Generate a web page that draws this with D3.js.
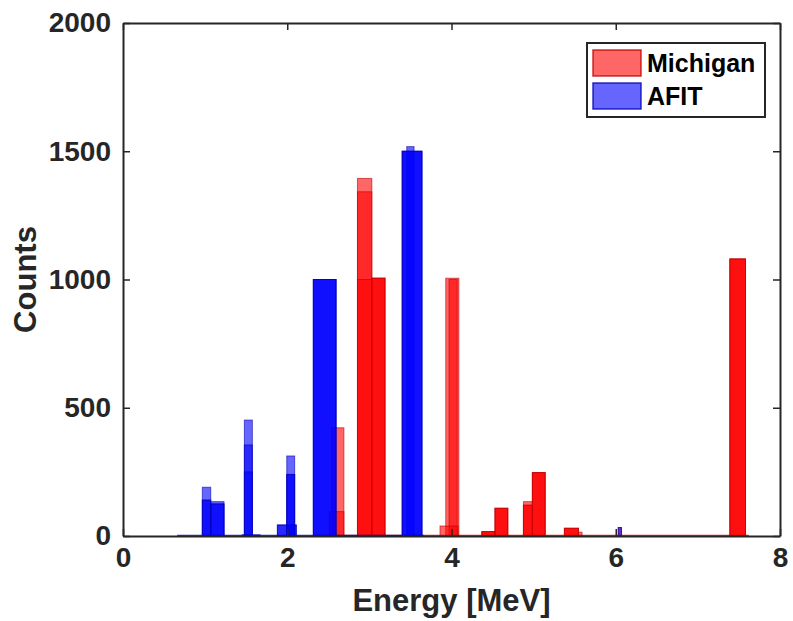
<!DOCTYPE html>
<html>
<head>
<meta charset="utf-8">
<script src="https://cdn.jsdelivr.net/npm/d3@7"></script>
<style>
  html, body { margin: 0; padding: 0; background: #fff; }
  svg { display: block; }
  text { font-family: "Liberation Sans", Arial, sans-serif; font-weight: bold; fill: #262626; }
</style>
</head>
<body>
<svg id="chart" width="793" height="621"></svg>
<script>
// ---------------- data ----------------
const xTicks = [0, 2, 4, 6, 8];
const yTicks = [0, 500, 1000, 1500, 2000];
const seriesNames = ["Michigan", "AFIT"];
const xLabel = "Energy [MeV]";
const yLabel = "Counts";

// bins per overlaid run: [binLow (MeV), binHigh (MeV), count]
const michiganRun1 = [[2.54,2.69,422],[2.855,3.03,1394],[3.03,3.19,1005],[3.93,4.09,1005],[4.37,4.53,17],[4.53,4.685,108],[4.876,4.985,134],[4.985,5.14,247],[5.375,5.546,30],[5.546,5.59,15],[7.39,7.58,1080]];
const michiganRun2 = [[2.51,2.69,95],[2.855,3.03,1342],[3.03,3.19,1005],[3.97,4.07,1000],[3.86,4.08,39],[4.37,4.53,17],[4.53,4.685,108],[4.876,4.985,120],[4.985,5.14,247],[5.375,5.546,30],[6.03,6.07,33],[7.39,7.58,1080]];
const michiganRun3 = [[2.855,3.03,1000],[3.03,3.19,1005],[4.37,4.53,17],[4.53,4.685,108],[4.876,4.985,120],[4.985,5.14,247],[5.375,5.546,30],[7.39,7.58,1080]];
const afitRun1 = [[0.966,1.068,190],[1.068,1.23,134],[1.478,1.575,452],[1.994,2.09,312],[2.318,2.594,1000],[3.40,3.64,1500],[3.455,3.544,1518]];
const afitRun2 = [[0.966,1.068,140],[1.068,1.23,125],[1.478,1.575,355],[1.88,2.11,43],[1.994,2.09,240],[2.318,2.594,1000],[3.40,3.64,1500]];
const afitRun3 = [[0.966,1.068,140],[1.068,1.23,125],[1.478,1.575,250],[1.45,1.67,5],[1.88,2.11,43],[1.994,2.09,240],[2.318,2.594,1000],[3.40,3.64,1500],[6.03,6.07,33]];
// extent of the (mostly empty) histogram bins of each data set
const michiganBinRange = [2.5, 7.62];
const afitBinRange = [0.66, 3.66];

// ---------------- drawing ----------------
const svg = d3.select("#chart");
const margin = { left: 123, right: 13, top: 23, bottom: 85 };
const W = 793, H = 621;
const x = d3.scaleLinear().domain([0, 8]).range([margin.left, W - margin.right]);
const y = d3.scaleLinear().domain([0, 2000]).range([H - margin.bottom, margin.top]);

const series = [
  { name: seriesNames[0], color: "#ff0000", edge: "#c00000", runs: [michiganRun1, michiganRun2, michiganRun3], range: michiganBinRange },
  { name: seriesNames[1], color: "#0000ff", edge: "#0000b0", runs: [afitRun1, afitRun2, afitRun3], range: afitBinRange }
];

const plot = svg.append("g");
series.forEach(s => {
  s.runs.forEach(run => {
    plot.append("g").selectAll("rect").data(run).join("rect")
      .attr("x", d => x(d[0]))
      .attr("width", d => x(d[1]) - x(d[0]))
      .attr("y", d => y(d[2]))
      .attr("height", d => y(0) - y(d[2]))
      .attr("fill", s.color).attr("fill-opacity", 0.6)
      .attr("stroke", s.edge).attr("stroke-opacity", 0.6).attr("stroke-width", 1);
  });
  plot.append("line")
    .attr("x1", x(s.range[0])).attr("x2", x(s.range[1]))
    .attr("y1", y(0) - 0.5).attr("y2", y(0) - 0.5)
    .attr("stroke", s.edge).attr("stroke-opacity", 0.8).attr("stroke-width", 1.5);
});

// axes (box with inward ticks on all sides)
const axisColor = "#262626";
const tickLen = 7;
const fmt = d3.format("d");
const axB = svg.append("g").attr("transform", `translate(0,${y(0)})`)
  .call(d3.axisBottom(x).tickValues(xTicks).tickSizeInner(-tickLen).tickSizeOuter(0).tickPadding(11).tickFormat(fmt));
const axT = svg.append("g").attr("transform", `translate(0,${y(2000)})`)
  .call(d3.axisTop(x).tickValues(xTicks).tickSizeInner(-tickLen).tickSizeOuter(0).tickFormat(""));
const axL = svg.append("g").attr("transform", `translate(${x(0)},0)`)
  .call(d3.axisLeft(y).tickValues(yTicks).tickSizeInner(-tickLen).tickSizeOuter(0).tickPadding(12).tickFormat(fmt));
const axR = svg.append("g").attr("transform", `translate(${x(8)},0)`)
  .call(d3.axisRight(y).tickValues(yTicks).tickSizeInner(-tickLen).tickSizeOuter(0).tickFormat(""));
[axB, axT, axL, axR].forEach(a => {
  a.selectAll("path.domain").attr("stroke", axisColor).attr("stroke-width", 2);
  a.selectAll(".tick line").attr("stroke", axisColor).attr("stroke-width", 1.5);
});
[axB, axL].forEach(a => a.selectAll(".tick text").style("font-size", "28px").attr("fill", axisColor)
  .style("font-family", "Liberation Sans, Arial, sans-serif").style("font-weight", "bold"));

// axis labels
svg.append("text").attr("x", (x(0) + x(8)) / 2).attr("y", 611)
  .attr("text-anchor", "middle").style("font-size", "31px").text(xLabel);
svg.append("text").attr("transform", `translate(36,${(y(0) + y(2000)) / 2}) rotate(-90)`)
  .attr("text-anchor", "middle").style("font-size", "31px").text(yLabel);

// legend
const lg = svg.append("g").attr("transform", "translate(587,43)");
lg.append("rect").attr("x", 0).attr("y", 0).attr("width", 178).attr("height", 74)
  .attr("fill", "#fff").attr("stroke", axisColor).attr("stroke-width", 2);
series.forEach((s, i) => {
  const row = lg.append("g").attr("transform", `translate(6,${7 + i * 33})`);
  row.append("rect").attr("width", 48).attr("height", 26)
    .attr("fill", s.color).attr("fill-opacity", 0.6)
    .attr("stroke", s.edge).attr("stroke-opacity", 0.8).attr("stroke-width", 1.5);
  row.append("text").attr("x", 54).attr("y", 22).style("font-size", "25px").style("fill", "#000").text(s.name);
});
</script>
</body>
</html>
